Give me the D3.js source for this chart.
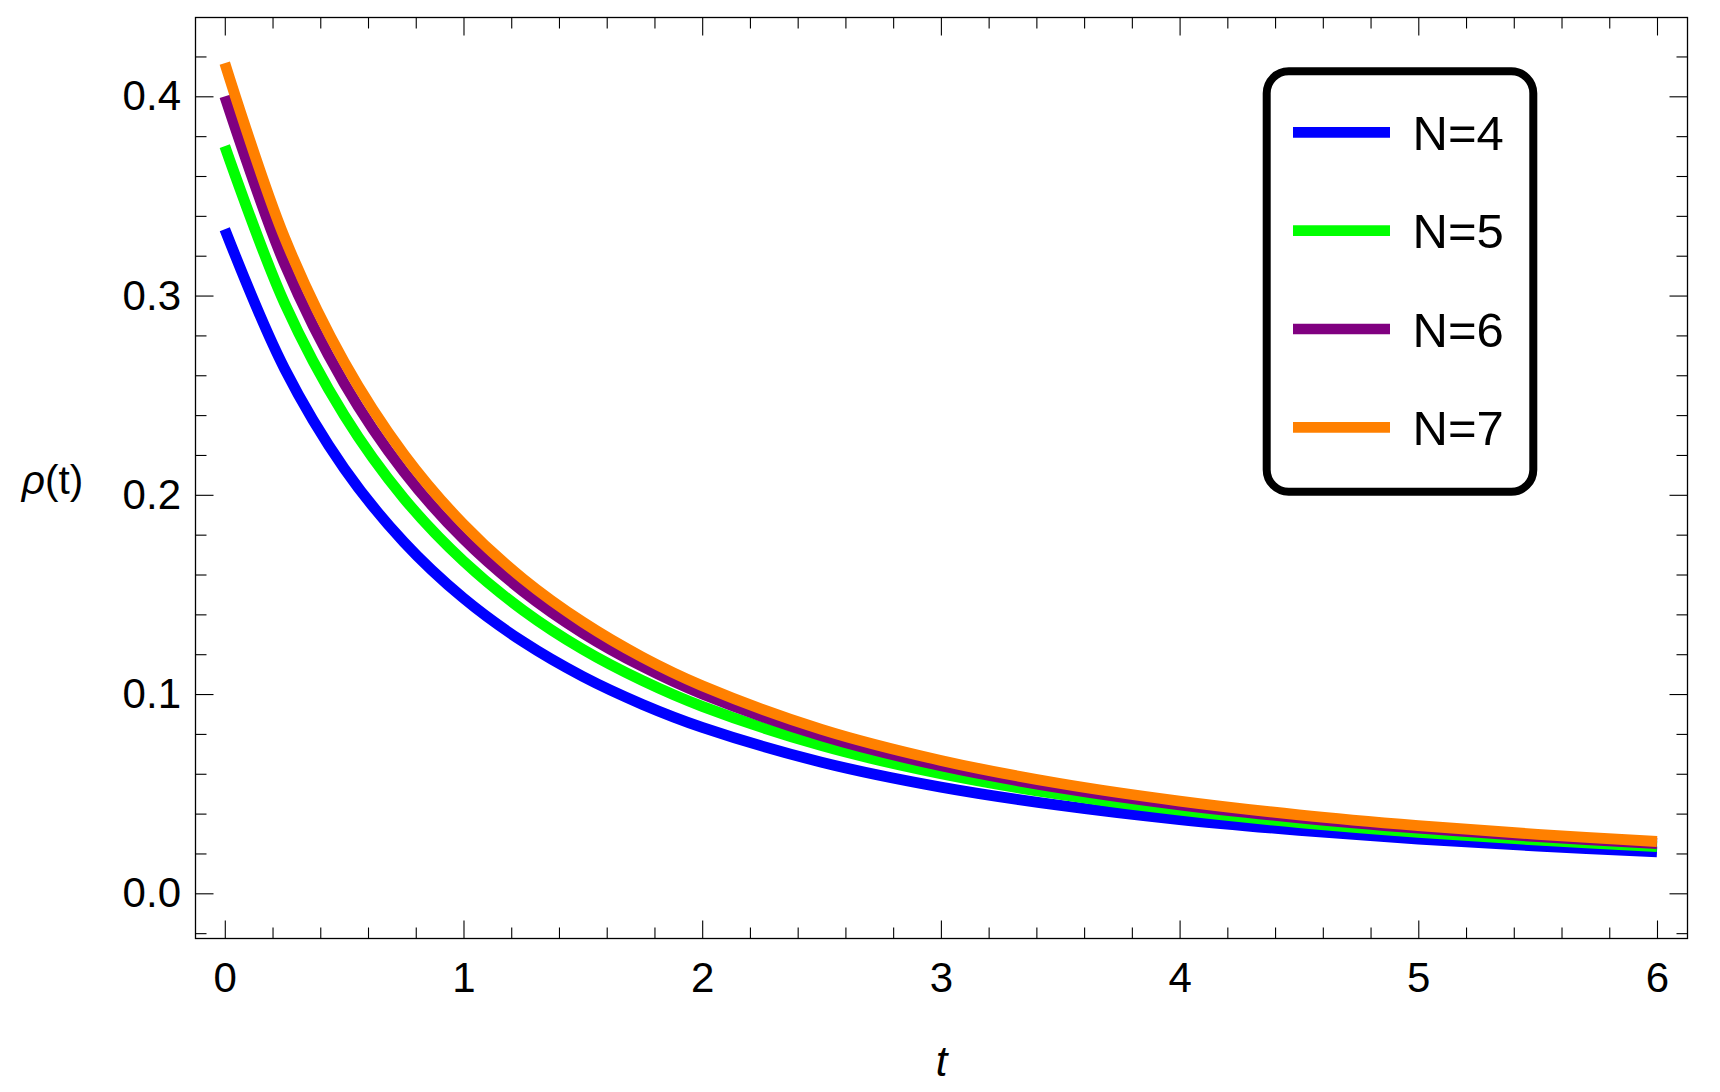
<!DOCTYPE html>
<html>
<head>
<meta charset="utf-8">
<script src="https://cdn.jsdelivr.net/npm/d3@7"></script>
<style>
  html, body { margin: 0; padding: 0; background: #fff; }
  svg { display: block; }
  text { font-family: "Liberation Sans", Arial, sans-serif; fill: #000; }
</style>
</head>
<body>
<svg id="chart" width="1720" height="1092"></svg>
<script>
// ---- data ----
const tValues = [0, 0.25, 0.5, 0.75, 1, 1.25, 1.5, 1.75, 2, 2.5, 3, 3.5, 4, 4.5, 5, 5.5, 6];
const seriesNames = ["N=4", "N=5", "N=6", "N=7"];
const rhoN4 = [0.3333, 0.2634, 0.2133, 0.1763, 0.1481, 0.1262, 0.1088, 0.0948, 0.0833, 0.0658, 0.0533, 0.0441, 0.0370, 0.0316, 0.0272, 0.0237, 0.0208];
const rhoN5 = [0.3750, 0.2963, 0.2400, 0.1983, 0.1667, 0.1420, 0.1224, 0.1067, 0.0938, 0.0741, 0.0600, 0.0496, 0.0417, 0.0355, 0.0306, 0.0267, 0.0234];
const rhoN6 = [0.4000, 0.3160, 0.2560, 0.2116, 0.1778, 0.1515, 0.1306, 0.1138, 0.1000, 0.0790, 0.0640, 0.0529, 0.0444, 0.0379, 0.0327, 0.0284, 0.0250];
const rhoN7 = [0.4167, 0.3292, 0.2667, 0.2204, 0.1852, 0.1578, 0.1361, 0.1185, 0.1042, 0.0823, 0.0667, 0.0551, 0.0463, 0.0394, 0.0340, 0.0296, 0.0260];
const seriesColors = ["#0000ff", "#00ff00", "#800080", "#ff8000"];
const xMajorTicks = [0, 1, 2, 3, 4, 5, 6];
const yMajorTicks = [0.0, 0.1, 0.2, 0.3, 0.4];
const xLabel = "t";
const yLabel = "ρ(t)";

const seriesValues = [rhoN4, rhoN5, rhoN6, rhoN7];

// ---- layout ----
const pL = 195.5, pR = 1687.5, pT = 17.5, pB = 938.5;

const x = d3.scaleLinear().domain([-0.1227, 6.1278]).range([pL, pR]);
const y = d3.scaleLinear().domain([-0.02268, 0.43955]).range([pB, pT]);

const svg = d3.select("#chart");

// minor ticks
const xMinor = d3.range(0, 6.0001, 0.2).map(v => +v.toFixed(2)).filter(v => Math.abs(v - Math.round(v)) > 1e-6);
const yMinor = d3.range(-0.02, 0.4301, 0.02).map(v => +v.toFixed(3)).filter(v => Math.abs(v * 10 - Math.round(v * 10)) > 1e-6);

const MAJ = 18, MIN = 11;

function styleAxis(g) {
  g.select(".domain").remove();
  g.selectAll(".tick line").attr("stroke", "#000").attr("stroke-width", 1.1);
  g.selectAll("text").style("font-family", '"Liberation Sans", Arial, sans-serif').attr("fill", "#000");
}

// bottom axis
svg.append("g").attr("transform", `translate(0,${pB})`)
  .call(d3.axisBottom(x).tickValues(xMajorTicks).tickSize(-MAJ).tickSizeOuter(0).tickPadding(23.5).tickFormat(d3.format("d")))
  .call(styleAxis)
  .call(g => g.selectAll("text").attr("font-size", 42));
svg.append("g").attr("transform", `translate(0,${pB})`)
  .call(d3.axisBottom(x).tickValues(xMinor).tickSize(-MIN).tickSizeOuter(0).tickFormat(""))
  .call(styleAxis);
// top axis (mirror)
svg.append("g").attr("transform", `translate(0,${pT})`)
  .call(d3.axisTop(x).tickValues(xMajorTicks).tickSize(-MAJ).tickSizeOuter(0).tickFormat(""))
  .call(styleAxis);
svg.append("g").attr("transform", `translate(0,${pT})`)
  .call(d3.axisTop(x).tickValues(xMinor).tickSize(-MIN).tickSizeOuter(0).tickFormat(""))
  .call(styleAxis);
// left axis
svg.append("g").attr("transform", `translate(${pL},0)`)
  .call(d3.axisLeft(y).tickValues(yMajorTicks).tickSize(-MAJ).tickSizeOuter(0).tickPadding(14.5).tickFormat(d3.format(".1f")))
  .call(styleAxis)
  .call(g => g.selectAll("text").attr("font-size", 42));
svg.append("g").attr("transform", `translate(${pL},0)`)
  .call(d3.axisLeft(y).tickValues(yMinor).tickSize(-MIN).tickSizeOuter(0).tickFormat(""))
  .call(styleAxis);
// right axis (mirror)
svg.append("g").attr("transform", `translate(${pR},0)`)
  .call(d3.axisRight(y).tickValues(yMajorTicks).tickSize(-MAJ).tickSizeOuter(0).tickFormat(""))
  .call(styleAxis);
svg.append("g").attr("transform", `translate(${pR},0)`)
  .call(d3.axisRight(y).tickValues(yMinor).tickSize(-MIN).tickSizeOuter(0).tickFormat(""))
  .call(styleAxis);

// frame
svg.append("rect")
  .attr("x", pL).attr("y", pT)
  .attr("width", pR - pL).attr("height", pB - pT)
  .attr("fill", "none").attr("stroke", "#000").attr("stroke-width", 1.3);

// curves
const line = d3.line()
  .x(d => x(d[0]))
  .y(d => y(d[1]))
  .curve(d3.curveCatmullRom.alpha(0.5));

svg.append("clipPath").attr("id", "plotclip")
  .append("rect").attr("x", pL).attr("y", pT).attr("width", pR - pL).attr("height", pB - pT);

seriesValues.forEach((vals, i) => {
  svg.append("path")
    .datum(tValues.map((t, j) => [t, vals[j]]))
    .attr("d", line)
    .attr("fill", "none")
    .attr("stroke", seriesColors[i])
    .attr("stroke-width", 10.8)
    .attr("stroke-linecap", "butt")
    .attr("stroke-linejoin", "round")
    .attr("clip-path", "url(#plotclip)");
});

// axis labels
svg.append("text")
  .attr("x", 941.5).attr("y", 1076)
  .attr("text-anchor", "middle")
  .attr("font-size", 42)
  .attr("font-style", "italic")
  .text(xLabel);

const yl = svg.append("text")
  .attr("x", 52.5).attr("y", 494)
  .attr("text-anchor", "middle")
  .attr("font-size", 40.5);
yl.append("tspan").attr("font-style", "italic").text(yLabel.charAt(0));
yl.append("tspan").text(yLabel.slice(1));

// legend
const lg = svg.append("g");
lg.append("rect")
  .attr("x", 1266.7).attr("y", 71.3)
  .attr("width", 266.6).attr("height", 420.4)
  .attr("rx", 22).attr("ry", 22)
  .attr("fill", "#fff").attr("stroke", "#000").attr("stroke-width", 8);

const legendY0 = 132.3, legendStep = 98.35;
seriesNames.forEach((name, i) => {
  const cy = legendY0 + i * legendStep;
  lg.append("line")
    .attr("x1", 1293).attr("x2", 1390)
    .attr("y1", cy).attr("y2", cy)
    .attr("stroke", seriesColors[i]).attr("stroke-width", 10.7)
    .attr("stroke-linecap", "butt");
  lg.append("text")
    .attr("x", 1412.5).attr("y", cy + 17.7)
    .attr("font-size", 49)
    .text(name);
});
</script>
</body>
</html>
